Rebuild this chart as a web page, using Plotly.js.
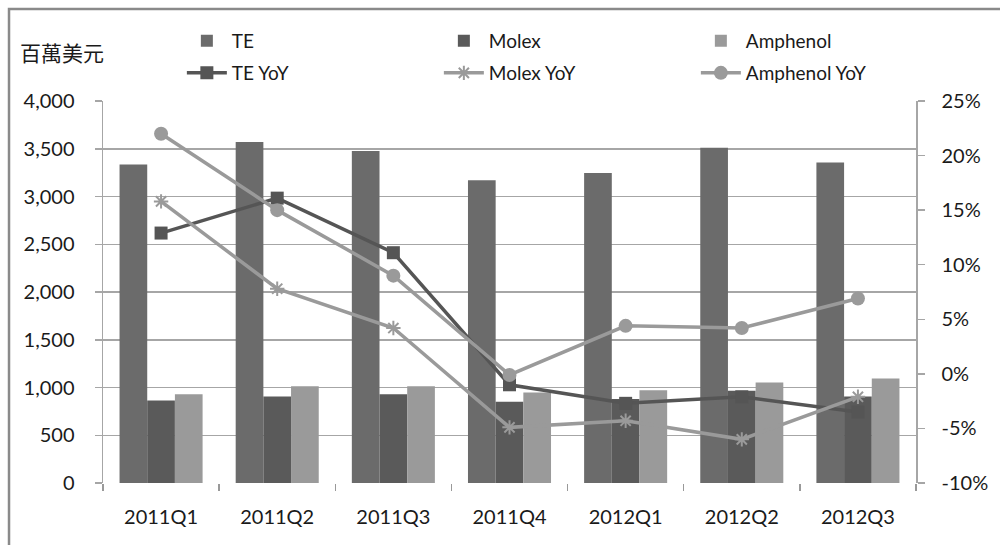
<!DOCTYPE html>
<html>
<head>
<meta charset="utf-8">
<script src="https://cdn.plot.ly/plotly-3.0.1.min.js"></script>
<style>html,body{margin:0;padding:0;background:#fff;}#chart{width:1000px;height:545px;}</style>
</head>
<body>
<div id="chart"></div>
<script>
// ---- data ----
const quarters = ["2011Q1","2011Q2","2011Q3","2011Q4","2012Q1","2012Q2","2012Q3"];
const teRevenue = [3335, 3571, 3477, 3171, 3247, 3510, 3356];
const molexRevenue = [864, 905, 930, 850, 880, 965, 906];
const amphenolRevenue = [930, 1014, 1014, 947, 972, 1052, 1094];
const teYoY = [12.9, 16.1, 11.1, -1.0, -2.7, -2.1, -3.5];
const molexYoY = [15.8, 7.8, 4.2, -4.9, -4.3, -6.0, -2.1];
const amphenolYoY = [22.0, 15.0, 9.0, -0.1, 4.4, 4.2, 6.9];
const leftTicks = [0, 500, 1000, 1500, 2000, 2500, 3000, 3500, 4000];
const rightTicks = [-10, -5, 0, 5, 10, 15, 20, 25];
const rightTickLabels = ["-10%", "-5%", "0%", "5%", "10%", "15%", "20%", "25%"];
const unitLabel = "百萬美元";

const FONT = "Lato, 'Noto Sans', sans-serif";

const traces = [
  {type:"bar", name:"TE", x:quarters, y:teRevenue, marker:{color:"#6b6b6b"}, yaxis:"y", legend:"legend"},
  {type:"bar", name:"Molex", x:quarters, y:molexRevenue, marker:{color:"#5a5a5a"}, yaxis:"y", legend:"legend"},
  {type:"bar", name:"Amphenol", x:quarters, y:amphenolRevenue, marker:{color:"#9a9a9a"}, yaxis:"y", legend:"legend"},
  {type:"scatter", mode:"lines+markers", name:"TE YoY", x:quarters, y:teYoY, yaxis:"y2", legend:"legend2",
   line:{color:"#555555", width:3.5}, marker:{symbol:"square", size:13, color:"#555555"}},
  {type:"scatter", mode:"lines+markers", name:"Molex YoY", x:quarters, y:molexYoY, yaxis:"y2", legend:"legend2",
   line:{color:"#9a9a9a", width:3.5}, marker:{symbol:"asterisk-open", size:12, color:"#9a9a9a", line:{color:"#9a9a9a", width:2}}},
  {type:"scatter", mode:"lines+markers", name:"Amphenol YoY", x:quarters, y:amphenolYoY, yaxis:"y2", legend:"legend2",
   line:{color:"#9a9a9a", width:3.5}, marker:{symbol:"circle", size:14, color:"#9a9a9a"}}
];

const legendBase = {orientation:"h", xanchor:"left", yanchor:"middle",
          entrywidth:202, entrywidthmode:"pixels", itemwidth:40,
          font:{family:FONT, size:19, color:"#1a1a1a"}, bgcolor:"rgba(0,0,0,0)", traceorder:"normal"};

const layout = {
  width:1000, height:545,
  margin:{l:103, r:84, t:101, b:62, autoexpand:false},
  paper_bgcolor:"#ffffff", plot_bgcolor:"#ffffff",
  font:{family:FONT, size:20, color:"#1a1a1a"},
  barmode:"group", bargap:0.285, bargroupgap:0,
  showlegend:true,
  legend:Object.assign({}, legendBase, {x:0.097, y:(483-41)/382}),
  legend2:Object.assign({}, legendBase, {x:0.097, y:(483-73)/382}),
  xaxis:{type:"category", showline:false, showgrid:false, zeroline:false,
         ticks:"outside", tickson:"boundaries", ticklen:7, tickcolor:"#999999", tickwidth:1.5,
         tickfont:{family:FONT, size:20, color:"#1a1a1a"}, ticklabelstandoff:20},
  yaxis:{range:[0,4000], tickmode:"array", tickvals:leftTicks, tickformat:",d", showgrid:true, gridcolor:"#a6a6a6", gridwidth:1.5,
         zeroline:false, showline:true, linecolor:"#a6a6a6", linewidth:1.5,
         ticks:"outside", ticklen:7, tickcolor:"#a6a6a6", tickwidth:1.5,
         tickfont:{family:FONT, size:20, color:"#1a1a1a"}, ticklabelstandoff:16},
  yaxis2:{range:[-10,25], tickmode:"array", tickvals:rightTicks, ticktext:rightTickLabels, overlaying:"y", side:"right",
          showgrid:false, zeroline:false, showline:true, linecolor:"#a6a6a6", linewidth:1.5,
          ticks:"outside", ticklen:7, tickcolor:"#a6a6a6", tickwidth:1.5,
          tickfont:{family:FONT, size:20, color:"#1a1a1a"}, ticklabelstandoff:13},
  annotations:[{text:unitLabel, xref:"paper", yref:"paper", x:-0.1045, y:1.128, xanchor:"left", yanchor:"middle",
                showarrow:false, font:{family:"'Noto Sans CJK TC', sans-serif", size:21, color:"#1a1a1a"}}],
  shapes:[{type:"rect", xref:"paper", yref:"paper", x0:-0.1156, x1:1.2, y0:-0.25, y1:1.2408,
           line:{color:"#8a8a8a", width:2.5}, fillcolor:"rgba(0,0,0,0)", layer:"above"}]
};

Plotly.newPlot("chart", traces, layout, {displayModeBar:false, staticPlot:true});
</script>
</body>
</html>
